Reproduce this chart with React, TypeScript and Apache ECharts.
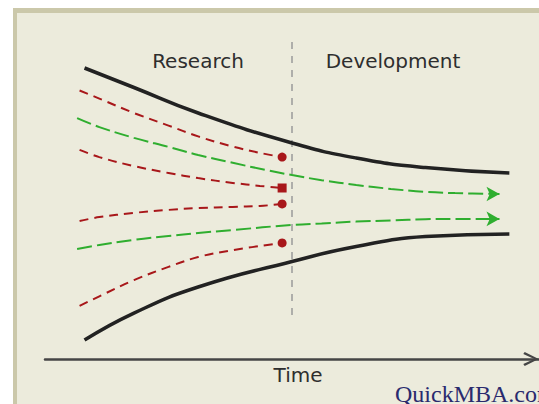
import React, { useEffect, useRef } from "react";
import * as echarts from "echarts";

// Time axis runs 0..100; the vertical axis 0..110 (arbitrary "spread" units)
const blackTopX = [8, 18, 31, 50, 63, 77, 94];
const blackTopY = [97, 90.5, 82, 72, 67, 63.8, 62];
const blackBottomX = [8, 18, 31, 50, 63, 77, 94];
const blackBottomY = [6.3, 15.3, 24, 32.5, 37.5, 40.8, 41.7];

const redX = [7, 11, 18, 25, 31, 38, 43.5, 48];
const red1Y = [89.5, 86.8, 82, 77.8, 74.2, 70.8, 68.7, 67.3];
const red2Y = [69.7, 67.3, 64.3, 62, 60.3, 58.7, 57.7, 57];
const red3Y = [46, 47.3, 48.7, 49.7, 50.3, 50.7, 51, 51.7];
const red4X = [7, 11, 18, 25, 31, 38, 48];
const red4Y = [17.7, 20.9, 26.3, 30.7, 34, 36.3, 38.7];

const green1X = [6.5, 11, 18, 25, 31, 38, 45, 50, 56, 63, 70, 77, 83, 92];
const green1Y = [80.3, 77.3, 73.7, 70.7, 68, 65.4, 62.9, 61.3, 59.6, 58, 56.7, 55.7, 55.3, 55];
const green2X = [6.5, 11, 18, 25, 31, 38, 50, 56, 63, 70, 77, 83, 92];
const green2Y = [36.7, 38, 39.7, 41, 42, 43, 44.7, 45.2, 45.8, 46.2, 46.6, 46.7, 46.7];

const dividerX = 50;
const dividerY = [105.7, 14.7];

const phaseLabels = ["Research", "Development"];
const axisLabel = "Time";
const credit = "QuickMBA.com";

const BLACK = "#222222";
const RED = "#a8171a";
const GREEN = "#2fae2f";

function pts(xs: number[], ys: number[]) {
  return xs.map((x, i) => [x, ys[i]]);
}

function redSeries(xs: number[], ys: number[], marker: string) {
  const d: any[] = pts(xs, ys);
  const last = d.length - 1;
  d[last] = { value: d[last], symbol: marker, symbolSize: 9, itemStyle: { color: RED } };
  return {
    type: "line",
    data: d,
    smooth: 0.35,
    symbol: "circle",
    symbolSize: 0,
    showAllSymbol: true,
    lineStyle: { color: RED, width: 2, type: [9, 6] },
    itemStyle: { color: RED },
    z: 3,
  };
}

function greenSeries(xs: number[], ys: number[]) {
  const d: any[] = pts(xs, ys);
  const last = d.length - 1;
  d[last] = {
    value: d[last],
    symbol: "arrow",
    symbolSize: [11, 13],
    symbolRotate: -90,
    itemStyle: { color: GREEN },
  };
  return {
    type: "line",
    data: d,
    smooth: 0.35,
    symbol: "circle",
    symbolSize: 0,
    showAllSymbol: true,
    lineStyle: { color: GREEN, width: 2, type: [15, 5] },
    itemStyle: { color: GREEN },
    z: 3,
  };
}

function blackSeries(xs: number[], ys: number[]) {
  return {
    type: "line",
    data: pts(xs, ys),
    smooth: 0.5,
    symbol: "none",
    lineStyle: { color: BLACK, width: 3.5, cap: "butt" },
    z: 4,
  };
}

export default function App() {
  const ref = useRef<HTMLDivElement>(null);
  useEffect(() => {
    document.body.style.margin = "0";
    const chart = echarts.init(ref.current!, null, { renderer: "svg" });
    chart.setOption({
      animation: false,
      backgroundColor: "#ffffff",
      grid: { left: 45, right: 0, top: 29, bottom: 45 },
      xAxis: {
        type: "value",
        min: 0,
        max: 100,
        name: axisLabel,
        nameLocation: "middle",
        nameGap: 6,
        nameTextStyle: {
          fontFamily: "DejaVu Sans",
          fontSize: 20,
          color: "#2e2e2e",
          padding: [0, 0, 0, 12],
        },
        axisLine: {
          show: true,
          lineStyle: { color: "#454545", width: 2.5 },
          symbol: ["none", "path://M5,0 L10,10 L8.6,11 L5,3.2 L1.4,11 L0,10 Z"],
          symbolSize: [14, 18],
          symbolOffset: [0, -8],
        },
        axisTick: { show: false },
        axisLabel: { show: false },
        splitLine: { show: false },
      },
      yAxis: {
        type: "value",
        min: 0,
        max: 110,
        show: false,
        splitLine: { show: false },
      },
      graphic: [
        {
          type: "rect",
          shape: { x: 13, y: 8, width: 530, height: 400 },
          style: { fill: "#cbc8aa" },
          z: -10,
        },
        {
          type: "rect",
          shape: { x: 17, y: 13, width: 526, height: 395 },
          style: { fill: "#ecebdc" },
          z: -9,
        },
        {
          type: "text",
          x: 198,
          y: 61,
          style: {
            text: phaseLabels[0],
            font: "20px 'DejaVu Sans'",
            fill: "#2e2e2e",
            align: "center",
            verticalAlign: "middle",
          },
          z: 5,
        },
        {
          type: "text",
          x: 393,
          y: 61,
          style: {
            text: phaseLabels[1],
            font: "20px 'DejaVu Sans'",
            fill: "#2e2e2e",
            align: "center",
            verticalAlign: "middle",
          },
          z: 5,
        },
        {
          type: "text",
          x: 395,
          y: 394,
          style: {
            text: credit,
            font: "24px 'Liberation Serif'",
            fill: "#2a2a6e",
            align: "left",
            verticalAlign: "middle",
          },
          z: 5,
        },
      ],
      series: [
        {
          type: "line",
          data: [
            [dividerX, dividerY[0]],
            [dividerX, dividerY[1]],
          ],
          symbol: "none",
          lineStyle: { color: "#9a9a9a", width: 1.5, type: [7, 7] },
          z: 2,
        },
        blackSeries(blackTopX, blackTopY),
        blackSeries(blackBottomX, blackBottomY),
        redSeries(redX, red1Y, "circle"),
        redSeries(redX, red2Y, "rect"),
        redSeries(redX, red3Y, "circle"),
        redSeries(red4X, red4Y, "circle"),
        greenSeries(green1X, green1Y),
        greenSeries(green2X, green2Y),
      ],
    });
    return () => chart.dispose();
  }, []);
  return (
    <div
      ref={ref}
      style={{
        position: "absolute",
        left: 0,
        top: 0,
        width: 539,
        height: 404,
        overflow: "hidden",
      }}
    />
  );
}
